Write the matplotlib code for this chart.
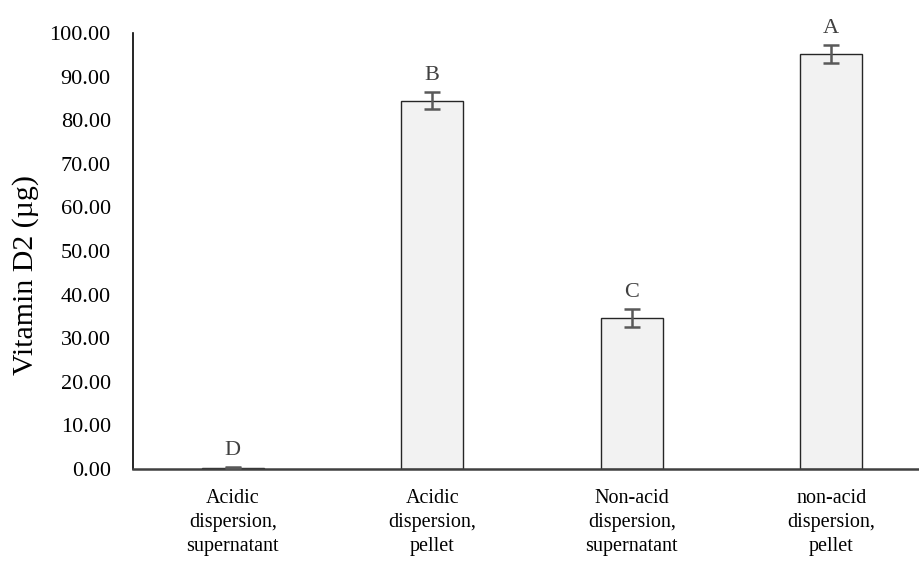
import numpy as np
import matplotlib.pyplot as plt

plt.rcParams['font.family'] = ['Liberation Serif', 'DejaVu Serif']

# Data
categories = ['Acidic\ndispersion,\nsupernatant', 'Acidic\ndispersion,\npellet',
              'Non-acid\ndispersion,\nsupernatant', 'non-acid\ndispersion,\npellet']
values = [0.3, 84.5, 34.6, 95.2]
errors = [0.1, 2.0, 2.0, 2.1]
letters = ['D', 'B', 'C', 'A']

fig = plt.figure(figsize=(9.2, 5.7), dpi=100)
ax = fig.add_axes([133 / 920, 101 / 570, 787 / 920, 436 / 570])

x = np.arange(len(categories))
ax.bar(x, values, width=0.31, color='#f2f2f2', edgecolor='#262626', linewidth=1.0, zorder=2)
ax.errorbar(x, values, yerr=errors, fmt='none', ecolor='#595959', elinewidth=1.8,
            capsize=5.5, capthick=1.8, zorder=3)

# significance letters above the error bars
for xi, v, e, lab in zip(x, values, errors, letters):
    ax.annotate(lab, (xi, v + e), xytext=(0, 5), textcoords='offset points',
                ha='center', va='bottom', fontsize=16, color='#404040')

ax.set_xlim(-0.5, 3.445)
ax.set_ylim(0, 100)
ax.set_yticks(np.arange(0, 101, 10))
ax.set_yticklabels([f'{v:.2f}' for v in np.arange(0, 101, 10)])
ax.set_xticks(x)
ax.set_xticklabels(categories, linespacing=1.35)
ax.tick_params(axis='y', length=0, pad=16, labelsize=16)
ax.tick_params(axis='x', length=0, pad=14.5, labelsize=14.5)
ax.set_ylabel('Vitamin D2 (µg)', fontsize=21.5)
ax.yaxis.set_label_coords(-0.119, 0.445)

ax.spines['top'].set_visible(False)
ax.spines['right'].set_visible(False)
ax.spines['left'].set_color('black')
ax.spines['left'].set_linewidth(1.2)
ax.spines['bottom'].set_color('#404040')
ax.spines['bottom'].set_linewidth(1.8)

fig.savefig('out.png', dpi=100)
